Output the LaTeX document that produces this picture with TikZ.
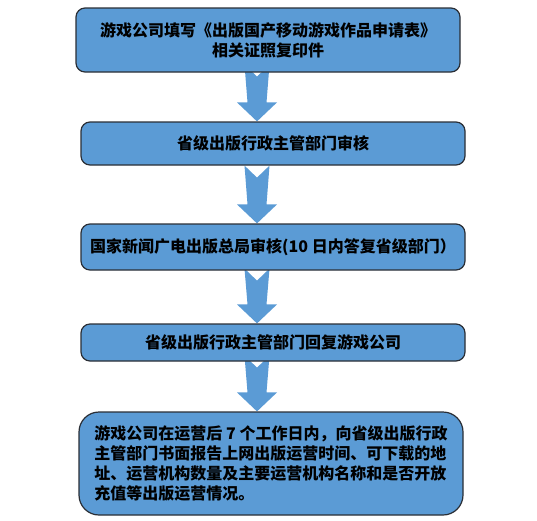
\documentclass[tikz,border=0pt]{standalone}
\usepackage{fontspec}
\newfontfamily\cjk{Noto Sans CJK SC}
\usetikzlibrary{positioning,calc,backgrounds}
\definecolor{boxblue}{HTML}{5B9BD5}
\definecolor{boxline}{HTML}{2A2E35}
\tikzstyle{stepbox} = [draw=boxline, line width=1.2pt, fill=boxblue, rounded corners=9pt, inner sep=0pt, minimum width=384pt, align=center, font=\cjk\bfseries\fontsize{16}{20}\selectfont]
\tikzstyle{flow} = [fill=boxblue]
% block arrow from box #1 down to box #2, its top hidden #3 under box #1
\newcommand{\drawFlow}[3]{
  \coordinate (T) at ($(spine |- #1.south)+(0,-#3)$);
  \coordinate (H) at (spine |- #2.north);
  \fill[flow] ($(T)+(-12.5,0)$) -- ($(T)+(0,12)$) -- ($(T)+(12.5,0)$)
    -- ($(H)+(9.5,-19)$) -- ($(H)+(20,-19)$) -- (H)
    -- ($(H)+(-20,-19)$) -- ($(H)+(-9.5,-19)$) -- cycle;
}

\begin{document}
\begin{tikzpicture}[x=1pt,y=-1pt]
  \useasboundingbox (0,0) rectangle (537,520);
  \coordinate (spine) at (257,0);

  \node[stepbox, minimum height=64pt] (apply) at (268,40)
    {游戏公司填写《出版国产移动游戏作品申请表》\\相关证照复印件};
  \node[stepbox, minimum height=43pt] (province) at (273,143.5)
    {省级出版行政主管部门审核};
  \node[stepbox, minimum height=46pt] (bureau) at (273,247)
    {国家新闻广电出版总局审核(10 日内答复省级部门）};
  \node[stepbox, minimum height=37pt] (reply) at (273,342.5)
    {省级出版行政主管部门回复游戏公司};
  \node[stepbox, minimum height=103pt, rounded corners=20pt, align=left] (report) at (271,463.5)
    {游戏公司在运营后 7 个工作日内，向省级出版行政\\
     主管部门书面报告上网出版运营时间、可下载的地\\
     址、运营机构数量及主要运营机构名称和是否开放\\
     充值等出版运营情况。};

  \begin{pgfonlayer}{background}
    \drawFlow{apply}{province}{8}
    \drawFlow{province}{bureau}{0}
    \drawFlow{bureau}{reply}{2}
    \drawFlow{reply}{report}{6}
  \end{pgfonlayer}
\end{tikzpicture}
\end{document}
